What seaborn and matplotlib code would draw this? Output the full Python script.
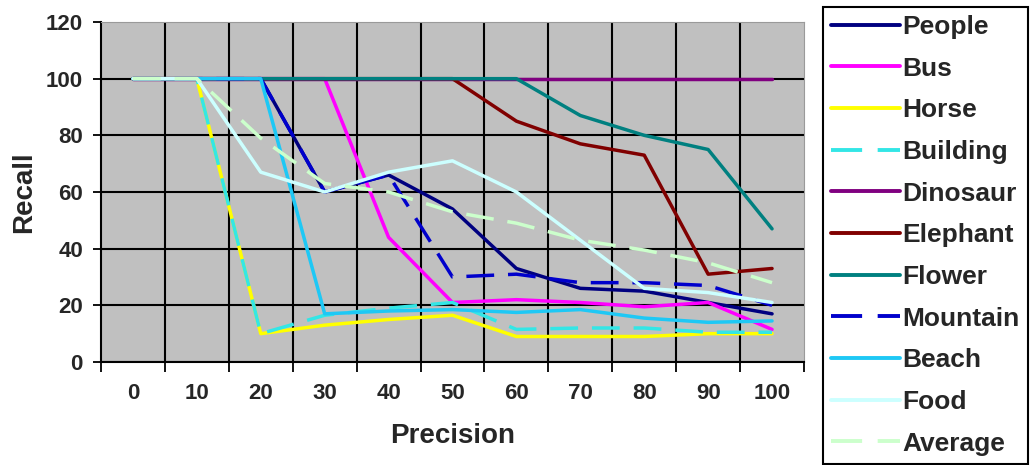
import matplotlib
matplotlib.use("Agg")
import matplotlib.pyplot as plt
import seaborn as sns
import pandas as pd
import numpy as np
from matplotlib.lines import Line2D

# ---- data ----
precision_labels = ["0", "10", "20", "30", "40", "50", "60", "70", "80", "90", "100"]
people   = [100, 100, 100, 60, 66, 54, 33, 26, 25, 21, 17]
bus      = [100, 100, 100, 100, 44, 21, 22, 21, 19.5, 21, 11.5]
horse    = [100, 100, 10, 13, 15, 16.5, 9, 9, 9, 10, 10]
building = [100, 100, 10, 16.5, 19, 21, 11.5, 12, 12, 10.5, 10.5]
dinosaur = [100, 100, 100, 100, 100, 100, 100, 100, 100, 100, 100]
elephant = [100, 100, 100, 100, 100, 100, 85, 77, 73, 31, 33]
flower   = [100, 100, 100, 100, 100, 100, 100, 87, 80, 75, 47]
mountain = [100, 100, 100, 60, 66, 30, 31, 28, 28, 27, 20]
beach    = [100, 100, 100, 17, 18, 18.5, 17.5, 18.5, 15.5, 14, 14.5]
food     = [100, 100, 67, 60, 67, 71, 60, 43, 26, 24.5, 21]
average  = [100, 100, 79, 63, 60, 53, 49, 43, 39.5, 35, 28]

series_names = ["People", "Bus", "Horse", "Building", "Dinosaur", "Elephant",
                "Flower", "Mountain", "Beach", "Food", "Average"]
series_values = [people, bus, horse, building, dinosaur, elephant,
                 flower, mountain, beach, food, average]
colors = ["#000080", "#FF00FF", "#FFFF00", "#33E6E6", "#800080", "#800000",
          "#008080", "#0000CC", "#1EC8F5", "#CCFFFF", "#CCFFCC"]
dashed = [False, False, False, True, False, False, False, True, False, False, True]

sns.set_theme(style="white")
plt.rcParams["font.family"] = ["Liberation Sans", "DejaVu Sans"]
plt.rcParams["font.weight"] = "bold"

fig = plt.figure(figsize=(10.35, 4.65), dpi=100)
ax = fig.add_axes([101/1035, 1 - 362/465, (804 - 101)/1035, (362 - 22)/465])
ax.set_facecolor("#C0C0C0")

x_idx = np.arange(len(precision_labels))
handles = []
for name, vals, col, d in zip(series_names, series_values, colors, dashed):
    df = pd.DataFrame({"x": x_idx, "y": vals})
    kw = dict(dashes=(8, 4)) if d else {}
    sns.lineplot(data=df, x="x", y="y", ax=ax, color=col, linewidth=2.5,
                 legend=False, zorder=3, **kw)
    ls = (0, (8, 4)) if d else "-"
    handles.append(Line2D([0], [0], color=col, linewidth=2.8, linestyle=ls, label=name))

# axes limits / ticks
ax.set_xlim(-0.5, len(precision_labels) - 0.5)
ax.set_ylim(0, 120)
ax.set_yticks(np.arange(0, 121, 20))
ax.set_xticks(np.arange(-0.5, len(precision_labels), 1.0))
ax.set_xticklabels([])
ax.set_xticks(x_idx, minor=True)
ax.set_xticklabels(precision_labels, minor=True, fontsize=16, fontweight="bold")
ax.tick_params(axis="x", which="major", direction="out", length=7, width=1.3,
               color="black", bottom=True)
ax.tick_params(axis="x", which="minor", length=0, pad=15)
ax.tick_params(axis="y", direction="out", length=6, width=1.3, color="black",
               left=True, labelsize=16, pad=7)
for lab in ax.get_yticklabels():
    lab.set_fontweight("bold")

ax.grid(True, color="black", linewidth=1.5, zorder=1)
ax.set_axisbelow(True)
fig.canvas.draw()
ax.yaxis.get_gridlines()[-1].set_visible(False)
ax.xaxis.get_gridlines()[-1].set_visible(False)
ax.xaxis.get_gridlines()[0].set_visible(False)

for s in ["top", "right"]:
    ax.spines[s].set_color("#9A9A9A")
    ax.spines[s].set_linewidth(0.8)
for s in ["left", "bottom"]:
    ax.spines[s].set_color("black")
    ax.spines[s].set_linewidth(1.5)

ax.set_xlabel("Precision", fontsize=20, fontweight="bold", labelpad=14)
ax.set_ylabel("Recall", fontsize=20, fontweight="bold", labelpad=6)

leg = fig.legend(handles=handles, loc="upper left",
                 bbox_to_anchor=(823/1035, 1 - 7/465), borderaxespad=0,
                 prop={"size": 19, "weight": "bold"}, frameon=True,
                 fancybox=False, handlelength=2.6, handletextpad=0.12,
                 labelspacing=0.67, borderpad=0.3)
leg.get_frame().set_edgecolor("black")
leg.get_frame().set_linewidth(1.5)
leg.get_frame().set_facecolor("white")
leg.get_frame().set_alpha(1)

fig.savefig("out.png", dpi=100, facecolor="white")
